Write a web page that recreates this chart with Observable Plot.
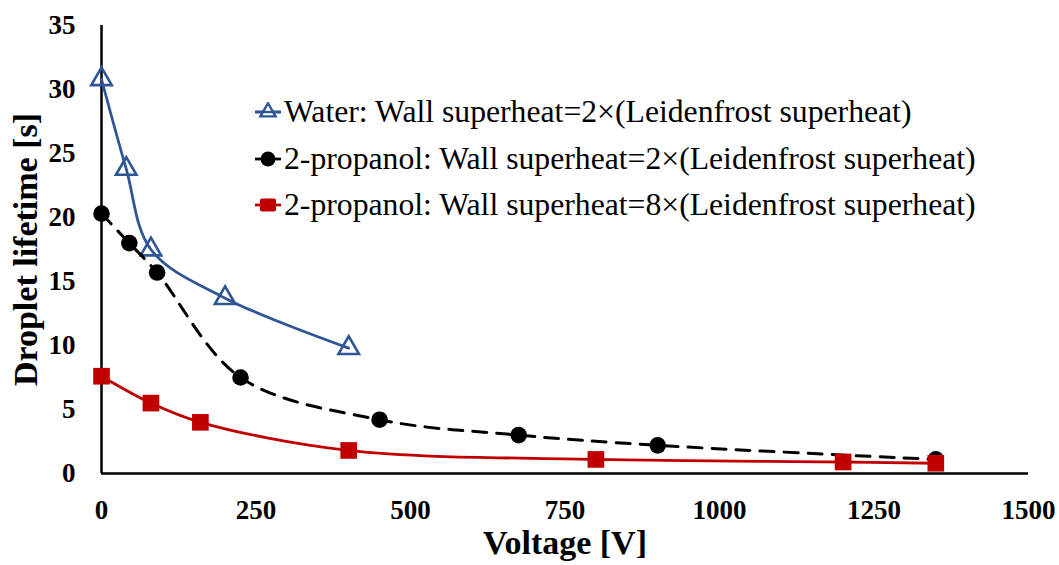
<!DOCTYPE html>
<html>
<head>
<meta charset="utf-8">
<script src="https://cdn.jsdelivr.net/npm/d3@7"></script>
<script src="https://cdn.jsdelivr.net/npm/@observablehq/plot@0.6"></script>
<style>
  html, body { margin: 0; padding: 0; background: #fff; }
  #wrap { position: relative; width: 1059px; height: 565px; font-family: 'Liberation Serif', 'Times New Roman', serif; }
  #legend { position: absolute; left: 254px; top: 89px; font-size: 31.7px; color: #000; font-family: 'Liberation Serif', serif; }
  .row { display: flex; align-items: center; height: 46.5px; white-space: nowrap; }
  .row svg { margin-right: 2px; }
</style>
</head>
<body>
<div id="wrap"></div>
<script>
// ---- data ----
const waterV = [0, 40, 80, 200, 400];
const waterT = [30.8, 23.8, 17.5, 13.7, 9.8];

const prop2V = [0, 45, 90, 225, 450, 675, 900, 1350];
const prop2T = [20.3, 18.0, 15.7, 7.5, 4.2, 3.0, 2.2, 1.1];

const prop8V = [0, 80, 160, 400, 800, 1200, 1350];
const prop8T = [7.6, 5.5, 4.0, 1.8, 1.1, 0.9, 0.8];

const seriesNames = [
  "Water: Wall superheat=2×(Leidenfrost superheat)",
  "2-propanol: Wall superheat=2×(Leidenfrost superheat)",
  "2-propanol: Wall superheat=8×(Leidenfrost superheat)"
];
const seriesColors = ["#2F5597", "#000000", "#C00000"];

const xTicks = [0, 250, 500, 750, 1000, 1250, 1500];
const yTicks = [0, 5, 10, 15, 20, 25, 30, 35];

const toRows = (xs, ys) => xs.map((v, i) => ({v, t: ys[i]}));
const water = toRows(waterV, waterT);
const p2 = toRows(prop2V, prop2T);
const p8 = toRows(prop8V, prop8T);

const font = "'Liberation Serif', 'Times New Roman', serif";

const chart = Plot.plot({
  width: 1059,
  height: 565,
  marginLeft: 101,
  marginRight: 31,
  marginTop: 25,
  marginBottom: 92,
  style: {fontFamily: font, background: "#fff", overflow: "visible"},
  x: {domain: [0, 1500]},
  y: {domain: [0, 35]},
  marks: [
    Plot.ruleX([0], {stroke: "#000", strokeWidth: 2.5}),
    Plot.ruleY([0], {stroke: "#000", strokeWidth: 2.5}),
    Plot.axisX({ticks: xTicks, tickSize: 0, tickPadding: 26, fontSize: 27, fontWeight: "bold",
      tickFormat: d => String(d), label: "Voltage [V]", labelAnchor: "center", labelArrow: "none", labelOffset: 80}),
    Plot.axisY({ticks: yTicks, tickSize: 0, tickPadding: 26, fontSize: 27, fontWeight: "bold",
      tickFormat: d => String(d), label: "Droplet lifetime [s]", labelAnchor: "center", labelArrow: "none", labelOffset: 89}),
    // Water
    Plot.line(water, {x: "v", y: "t", stroke: seriesColors[0], strokeWidth: 2.8, curve: "catmull-rom"}),
    Plot.dot(water, {x: "v", y: "t", symbol: "triangle", r: 7.6, stroke: seriesColors[0], strokeWidth: 2.6, fill: "none"}),
    // 2-propanol 2x
    Plot.line(p2, {x: "v", y: "t", stroke: seriesColors[1], strokeWidth: 3, strokeDasharray: "14,10", curve: "catmull-rom"}),
    Plot.dot(p2, {x: "v", y: "t", symbol: "circle", r: 8.3, fill: seriesColors[1], stroke: "none"}),
    // 2-propanol 8x
    Plot.line(p8, {x: "v", y: "t", stroke: seriesColors[2], strokeWidth: 2.8, curve: "catmull-rom"}),
    Plot.dot(p8, {x: "v", y: "t", symbol: "square", r: 9.4, fill: seriesColors[2], stroke: "none"})
  ]
});

// style axis labels
d3.select(chart).selectAll("[aria-label='x-axis label'] text, [aria-label='y-axis label'] text")
  .style("font-size", "34px").style("font-weight", "bold");

const wrap = document.getElementById("wrap");
wrap.appendChild(chart);

// legend
const legend = document.createElement("div");
legend.id = "legend";
const symbols = ["triangle", "circle", "square"];
seriesNames.forEach((name, i) => {
  const row = document.createElement("div");
  row.className = "row";
  const s = d3.create("svg").attr("width", 28).attr("height", 20);
  s.append("line").attr("x1", 1).attr("x2", 27).attr("y1", 10).attr("y2", 10)
    .attr("stroke", seriesColors[i]).attr("stroke-width", 2.8);
  const g = s.append("g").attr("transform", "translate(14,10)");
  if (symbols[i] === "triangle") {
    g.append("path").attr("d", d3.symbol(d3.symbolTriangle, 100)()).attr("fill", "#fff")
      .attr("stroke", seriesColors[i]).attr("stroke-width", 2.4);
    g.append("line").attr("x1", -13).attr("x2", 13).attr("y1", 0).attr("y2", 0)
      .attr("stroke", seriesColors[i]).attr("stroke-width", 2.4);
  } else if (symbols[i] === "circle") {
    g.append("circle").attr("r", 7.5).attr("fill", seriesColors[i]);
  } else {
    g.append("rect").attr("x", -8).attr("y", -6.5).attr("width", 16).attr("height", 13).attr("rx", 2).attr("fill", seriesColors[i]);
  }
  row.appendChild(s.node());
  const span = document.createElement("span");
  span.textContent = name;
  row.appendChild(span);
  legend.appendChild(row);
});
wrap.appendChild(legend);
</script>
</body>
</html>
